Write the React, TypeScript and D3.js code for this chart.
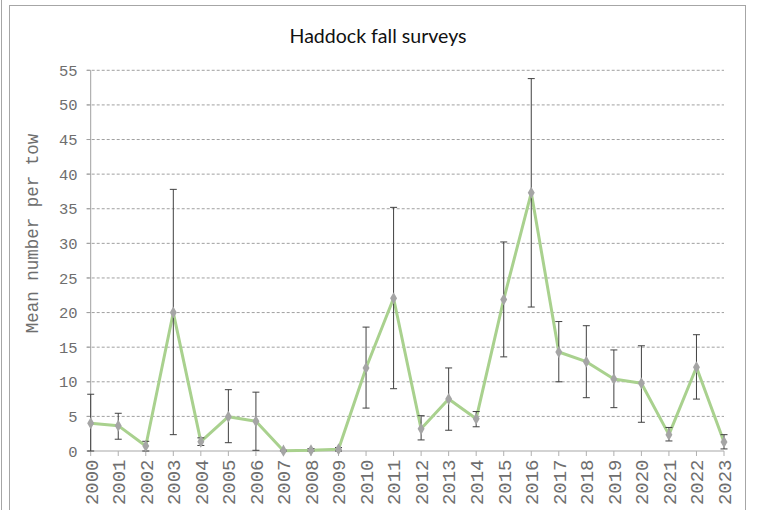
import React from "react";
import * as d3 from "d3";

const title = "Haddock fall surveys";
const yAxisTitle = "Mean number per tow";
const years = [2000, 2001, 2002, 2003, 2004, 2005, 2006, 2007, 2008, 2009, 2010, 2011, 2012, 2013, 2014, 2015, 2016, 2017, 2018, 2019, 2020, 2021, 2022, 2023];
const means = [4.0, 3.66, 0.72, 20.0, 1.35, 4.96, 4.3, 0.05, 0.1, 0.25, 12.0, 22.07, 3.2, 7.5, 4.67, 21.9, 37.3, 14.3, 12.9, 10.4, 9.78, 2.36, 12.1, 1.3];
const upper = [8.2, 5.45, 1.4, 37.8, 1.9, 8.86, 8.5, 0.1, 0.35, 0.5, 17.9, 35.2, 5.1, 12.0, 5.7, 30.2, 53.8, 18.7, 18.1, 14.6, 15.2, 3.4, 16.8, 2.36];
const lower = [0, 1.7, 0, 2.36, 0.8, 1.2, 0.1, 0, 0, 0, 6.2, 9.0, 1.6, 3.0, 3.5, 13.6, 20.8, 10.0, 7.7, 6.26, 4.15, 1.45, 7.5, 0.3];
const yTicks = [0, 5, 10, 15, 20, 25, 30, 35, 40, 45, 50, 55];

const W = 770;
const H = 510;

export default function App() {
  const x = d3.scaleLinear().domain([2000, 2023]).range([90.7, 724]);
  const y = d3.scaleLinear().domain([0, 55]).range([451, 70.3]);
  const line = d3
    .line<number>()
    .x((_, i) => x(years[i]))
    .y((d) => y(d));
  const mono = "'Liberation Mono', 'DejaVu Sans Mono', monospace";
  const diamond = d3.symbol(d3.symbolDiamond, 42)() as string;
  const textCol = "#6e6e6e";

  return (
    <svg
      width={W}
      height={H}
      style={{ position: "absolute", left: 0, top: 0, background: "#fff" }}
    >
      <rect x={0} y={0} width={W} height={H} fill="#fff" />
      {/* outer frame fragments */}
      <line x1={1.5} y1={0} x2={1.5} y2={H} stroke="#a6a6a6" strokeWidth={1} />
      <rect x={9.5} y={5.5} width={736} height={H} fill="none" stroke="#a6a6a6" strokeWidth={1} />

      {/* title */}
      <text
        x={378}
        y={43.3}
        textAnchor="middle"
        fontFamily="Lato, 'Open Sans', sans-serif"
        fontSize={20}
        textLength={177}
        lengthAdjust="spacingAndGlyphs"
        fill="#111"
      >
        {title}
      </text>

      {/* gridlines */}
      {yTicks
        .filter((t) => t > 0)
        .map((t) => (
          <line
            key={"g" + t}
            x1={86.7}
            x2={724}
            y1={y(t)}
            y2={y(t)}
            stroke="#a0a0a0"
            strokeWidth={1}
            strokeDasharray="3,2"
          />
        ))}
      {/* y ticks */}
      {yTicks.map((t) => (
        <line key={"yt" + t} x1={86.7} x2={90.7} y1={y(t)} y2={y(t)} stroke="#a0a0a0" strokeWidth={1} />
      ))}
      {/* y axis */}
      <line x1={90.7} x2={90.7} y1={y(55)} y2={y(0)} stroke="#a0a0a0" strokeWidth={1} />
      {/* y labels */}
      {yTicks.map((t) => (
        <text
          key={"yl" + t}
          x={77.5}
          y={y(t)}
          dy="0.36em"
          textAnchor="end"
          fontFamily={mono}
          fontSize={15.5}
          fill={textCol}
        >
          {t}
        </text>
      ))}
      {/* y axis title */}
      <text
        transform={`translate(37.5,233.5) rotate(-90)`}
        textAnchor="middle"
        fontFamily={mono}
        fontSize={17.5}
        fill={textCol}
      >
        {yAxisTitle}
      </text>

      {/* x axis */}
      <line x1={90.7} x2={724} y1={y(0)} y2={y(0)} stroke="#c4c4c4" strokeWidth={1.6} />
      {years.map((yr) => (
        <line key={"xt" + yr} x1={x(yr)} x2={x(yr)} y1={y(0)} y2={y(0) + 5} stroke="#b0b0b0" strokeWidth={1} />
      ))}
      {years.map((yr) => (
        <text
          key={"xl" + yr}
          transform={`translate(${x(yr)},${459.5}) rotate(-90)`}
          textAnchor="end"
          dy="0.36em"
          fontFamily={mono}
          fontSize={19}
          fill={textCol}
        >
          {yr}
        </text>
      ))}

      {/* line */}
      <path d={line(means) || ""} fill="none" stroke="#a9d18e" strokeWidth={3} strokeLinejoin="round" />

      {/* error bars */}
      {years.map((yr, i) => {
        const cx = x(yr);
        return (
          <g key={"e" + yr} stroke="#404040" strokeWidth={1}>
            <line x1={cx} x2={cx} y1={y(upper[i])} y2={y(lower[i])} />
            <line x1={cx - 3.5} x2={cx + 3.5} y1={y(upper[i])} y2={y(upper[i])} />
            <line x1={cx - 3.5} x2={cx + 3.5} y1={y(lower[i])} y2={y(lower[i])} />
          </g>
        );
      })}

      {/* markers */}
      {years.map((yr, i) => (
        <path
          key={"m" + yr}
          d={diamond}
          transform={`translate(${x(yr)},${y(means[i])})`}
          fill="#a5a5a5"
        />
      ))}
    </svg>
  );
}
